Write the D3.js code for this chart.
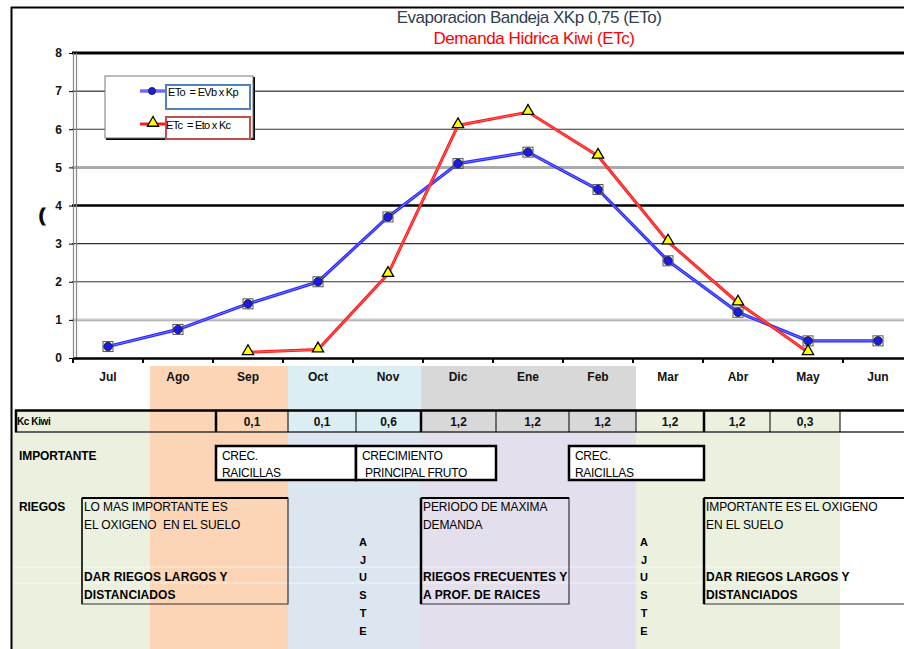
<!DOCTYPE html>
<html><head><meta charset="utf-8">
<script src="https://cdn.jsdelivr.net/npm/d3@7"></script>
<style>
html,body{margin:0;padding:0;background:#fff;overflow:hidden}
svg{display:block;font-family:Arial,"Liberation Sans",sans-serif}
text{white-space:pre}
</style></head><body>
<svg id="c" width="904" height="649"></svg>
<script>
const months = ["Jul","Ago","Sep","Oct","Nov","Dic","Ene","Feb","Mar","Abr","May","Jun"];
const etoValues = [0.3,0.75,1.42,2.0,3.7,5.1,5.4,4.42,2.55,1.2,0.45,0.45];
const etcValues = [null,null,0.15,0.22,2.2,6.1,6.45,5.3,3.05,1.45,0.15,null];
const kcLabels = ["","","0,1","0,1","0,6","1,2","1,2","1,2","1,2","1,2","0,3",""];
const yTicks = [0,1,2,3,4,5,6,7,8];
const titleLines = ["Evaporacion Bandeja XKp 0,75 (ETo)","Demanda Hidrica Kiwi (ETc)"];
const legendLabels = ["ETo  = EVb x Kp","ETc  = Eto x Kc"];

const svg = d3.select("#c");
const x = d3.scaleBand().domain(months).range([73,913]).padding(0);
const y = d3.scaleLinear().domain([0,8]).range([358,53]);
const bw = x.bandwidth();

// ---------- background colour columns ----------
const bg = svg.append("g");
const upper = [[150,288,"#fbd5b5"],[288,421,"#daeef3"],[421,636,"#d8d8d8"]];
upper.forEach(u=>bg.append("rect").attr("x",u[0]).attr("y",366).attr("width",u[1]-u[0]).attr("height",66).attr("fill",u[2]));
bg.append("rect").attr("x",15).attr("y",410).attr("width",135).attr("height",22).attr("fill","#ebf1de");
bg.append("rect").attr("x",636).attr("y",410).attr("width",204).attr("height",22).attr("fill","#ebf1de");
const lower = [[11,150,"#ebf1de"],[150,288,"#fbd5b5"],[288,421,"#dce6f1"],[421,636,"#e4dfec"],[636,840,"#ebf1de"]];
lower.forEach(l=>bg.append("rect").attr("x",l[0]).attr("y",432).attr("width",l[1]-l[0]).attr("height",217).attr("fill",l[2]));
[567,583].forEach(yy=>bg.append("line").attr("x1",11).attr("x2",904).attr("y1",yy).attr("y2",yy).attr("stroke","#ffffff").attr("stroke-opacity",0.6).attr("stroke-width",1));

// ---------- outer frame & title ----------
svg.append("line").attr("x1",11).attr("x2",904).attr("y1",7.5).attr("y2",7.5).attr("stroke","#000").attr("stroke-width",2);
svg.append("line").attr("x1",11.5).attr("x2",11.5).attr("y1",7).attr("y2",649).attr("stroke","#000").attr("stroke-width",2);
svg.append("text").attr("x",529).attr("y",23).attr("text-anchor","middle").attr("font-size",17).attr("fill","#2f3e50").attr("letter-spacing","-0.5").text(titleLines[0]);
svg.append("text").attr("x",534).attr("y",44).attr("text-anchor","middle").attr("font-size",17).attr("fill","#ff0000").attr("letter-spacing","-0.4").text(titleLines[1]);

// ---------- grid ----------
const gridStyle = {8:["#000",3],7:["#555",1.5],6:["#333",1.2],5:["#aaa",3],4:["#000",2.5],3:["#333",1.2],2:["#333",1.2],1:["#999",2.5]};
const grid = svg.append("g");
yTicks.filter(t=>t>0).forEach(t=>{
  const s = gridStyle[t];
  grid.append("line").attr("x1",72).attr("x2",904).attr("y1",y(t)).attr("y2",y(t)).attr("stroke",s[0]).attr("stroke-width",s[1]);
});
grid.append("line").attr("x1",72).attr("x2",904).attr("y1",y(1)).attr("y2",y(1)).attr("stroke","#fff").attr("stroke-width",0.8);
grid.append("line").attr("x1",73.5).attr("x2",73.5).attr("y1",53).attr("y2",360).attr("stroke","#888").attr("stroke-width",1.2);
grid.append("line").attr("x1",76.5).attr("x2",76.5).attr("y1",53).attr("y2",360).attr("stroke","#888").attr("stroke-width",1.2);

// y axis
const yAxis = svg.append("g").attr("transform","translate(73,0)")
  .call(d3.axisLeft(y).tickValues(yTicks).tickSize(4).tickFormat(d3.format("d")));
yAxis.select(".domain").remove();
yAxis.selectAll("text").attr("font-size",12).attr("font-weight","bold").attr("fill","#111").attr("dx","-4");
yAxis.selectAll("line").attr("stroke","#000");
svg.append("text").attr("x",42).attr("y",221).attr("text-anchor","middle").attr("font-size",19).attr("font-weight","900").attr("stroke","#000").attr("stroke-width",0.8).text("(");

// x axis
const xAxis = svg.append("g").attr("transform","translate(0,358)")
  .call(d3.axisBottom(x).tickSize(0).tickPadding(14));
xAxis.select(".domain").attr("stroke","#000").attr("stroke-width",2.5);
xAxis.selectAll("text").attr("font-size",12).attr("font-weight","bold").attr("fill","#111");
const bounds = months.map(m=>x(m)).concat([x("Jun")+bw]);
bounds.forEach(b=>svg.append("line").attr("x1",b).attr("x2",b).attr("y1",358).attr("y2",363).attr("stroke","#000").attr("stroke-width",2));

// ---------- series ----------
const cx = m => x(m)+bw/2;
const lineG = d3.line().defined(d=>d.v!==null).x(d=>cx(d.m)).y(d=>y(d.v));
const eto = months.map((m,i)=>({m,v:etoValues[i]}));
const etc = months.map((m,i)=>({m,v:etcValues[i]}));
const plot = svg.append("g");
plot.append("path").datum(eto).attr("d",lineG).attr("fill","none").attr("stroke","#2a2aff").attr("stroke-width",3.2);
plot.append("path").datum(eto).attr("d",lineG).attr("fill","none").attr("stroke","#aab0ff").attr("stroke-width",0.8).attr("stroke-opacity",0.7);
plot.append("path").datum(etc).attr("d",lineG).attr("fill","none").attr("stroke","#ff1a1a").attr("stroke-width",3);
plot.append("path").datum(etc).attr("d",lineG).attr("fill","none").attr("stroke","#ffb0b0").attr("stroke-width",0.8).attr("stroke-opacity",0.6);
eto.forEach(d=>{
  plot.append("rect").attr("x",cx(d.m)-5).attr("y",y(d.v)-5).attr("width",10).attr("height",10).attr("fill","none").attr("stroke","#555").attr("stroke-width",1);
  plot.append("circle").attr("cx",cx(d.m)).attr("cy",y(d.v)).attr("r",4.2).attr("fill","#1a1aee").attr("stroke","#222").attr("stroke-width",1);
});
const tri = d3.symbol().type(d3.symbolTriangle).size(55);
etc.filter(d=>d.v!==null).forEach(d=>{
  plot.append("path").attr("d",tri).attr("transform",`translate(${cx(d.m)},${y(d.v)-1})`).attr("fill","#ffff00").attr("stroke","#000").attr("stroke-width",1.3);
});

// ---------- legend ----------
const lg = svg.append("g");
lg.append("rect").attr("x",106).attr("y",77).attr("width",149).attr("height",63).attr("fill","#000");
lg.append("rect").attr("x",105).attr("y",76).attr("width",148).attr("height",62).attr("fill","#fff").attr("stroke","#777").attr("stroke-width",1);
lg.append("rect").attr("x",166).attr("y",85).attr("width",84).attr("height",24).attr("fill","#fff").attr("stroke","#4f81bd").attr("stroke-width",2);
lg.append("rect").attr("x",166).attr("y",117).attr("width",84).attr("height",22).attr("fill","#fff").attr("stroke","#c0504d").attr("stroke-width",2);
lg.append("line").attr("x1",140).attr("x2",165).attr("y1",91).attr("y2",91).attr("stroke","#2a2aff").attr("stroke-width",3);
lg.append("line").attr("x1",140).attr("x2",165).attr("y1",91).attr("y2",91).attr("stroke","#fff").attr("stroke-width",1).attr("stroke-opacity",0.6);
lg.append("circle").attr("cx",152).attr("cy",91).attr("r",3.5).attr("fill","#1a1aee").attr("stroke","#222");
lg.append("line").attr("x1",140).attr("x2",165).attr("y1",124).attr("y2",124).attr("stroke","#ff1a1a").attr("stroke-width",3);
lg.append("path").attr("d",tri).attr("transform","translate(153,123)").attr("fill","#ffff00").attr("stroke","#000").attr("stroke-width",1.3);
lg.append("text").attr("x",168).attr("y",96).attr("font-size",11).attr("letter-spacing","-0.7").text(legendLabels[0]);
lg.append("text").attr("x",166).attr("y",129).attr("font-size",11).attr("letter-spacing","-0.7").text(legendLabels[1]);

// ---------- Kc row ----------
const kc = svg.append("g");
kc.append("line").attr("x1",15).attr("x2",904).attr("y1",410.5).attr("y2",410.5).attr("stroke","#000").attr("stroke-width",2.5);
kc.append("line").attr("x1",15).attr("x2",904).attr("y1",432).attr("y2",432).attr("stroke","#333").attr("stroke-width",1.5);
kc.append("line").attr("x1",16).attr("x2",16).attr("y1",410).attr("y2",432).attr("stroke","#000").attr("stroke-width",2.5);
const kcCells = [216,288,356,421,496,569,636,704,770,840];
const thick = [216,421,704];
kcCells.forEach(b=>kc.append("line").attr("x1",b).attr("x2",b).attr("y1",410).attr("y2",432).attr("stroke","#000").attr("stroke-width",thick.includes(b)?2.5:1));
kc.append("text").attr("x",17).attr("y",425).attr("font-size",10).attr("font-weight","bold").attr("letter-spacing","-0.4").text("Kc Kiwi");
const kcEdges = [[null,null],[null,null],[216,288],[288,356],[356,421],[421,496],[496,569],[569,636],[636,704],[704,770],[770,840],[null,null]];
kcLabels.forEach((t,i)=>{
  if(!t) return;
  const e = kcEdges[i];
  kc.append("text").attr("x",(e[0]+e[1])/2).attr("y",426).attr("text-anchor","middle").attr("font-size",12).attr("font-weight","bold").attr("fill","#111").text(t);
});

// ---------- IMPORTANTE row ----------
const tb = svg.append("g");
tb.append("text").attr("x",19).attr("y",460).attr("font-size",12).attr("font-weight","bold").attr("letter-spacing","-0.1").text("IMPORTANTE");
const boxes = [[216,356,["CREC.","RAICILLAS"]],[356,496,["CRECIMIENTO"," PRINCIPAL FRUTO"]],[569,704,["CREC.","RAICILLAS"]]];
boxes.forEach(b=>{
  tb.append("rect").attr("x",b[0]).attr("y",446).attr("width",b[1]-b[0]).attr("height",34).attr("fill","#fff").attr("stroke","#000").attr("stroke-width",2.5);
  tb.append("text").attr("x",b[0]+6).attr("y",460).attr("font-size",12).attr("letter-spacing","-0.3").text(b[2][0]);
  tb.append("text").attr("x",b[0]+6).attr("y",477).attr("font-size",12).attr("letter-spacing","-0.3").text(b[2][1]);
});

// ---------- RIEGOS row ----------
tb.append("text").attr("x",19).attr("y",511).attr("font-size",12).attr("font-weight","bold").attr("letter-spacing","-0.1").text("RIEGOS");
const rboxes = [
  [82,288,["LO MAS IMPORTANTE ES","EL OXIGENO  EN EL SUELO"],["DAR RIEGOS LARGOS Y","DISTANCIADOS"]],
  [421,569,["PERIODO DE MAXIMA","DEMANDA"],["RIEGOS FRECUENTES Y","A PROF. DE RAICES"]],
  [704,920,["IMPORTANTE ES EL OXIGENO","EN EL SUELO"],["DAR RIEGOS LARGOS Y","DISTANCIADOS"]]
];
rboxes.forEach(b=>{
  tb.append("path").attr("d",`M${b[0]},604 L${b[0]},498 L${b[1]},498 L${b[1]},604 Z`).attr("fill","none").attr("stroke","#333").attr("stroke-width",1.2);
  tb.append("line").attr("x1",b[0]).attr("x2",b[1]).attr("y1",498).attr("y2",498).attr("stroke","#000").attr("stroke-width",2);
  tb.append("line").attr("x1",b[0]).attr("x2",b[0]).attr("y1",498).attr("y2",604).attr("stroke","#000").attr("stroke-width",b[0]===82?1.2:2.5);
  tb.append("text").attr("x",b[0]+2).attr("y",511).attr("font-size",12).attr("letter-spacing","-0.1").text(b[2][0]);
  tb.append("text").attr("x",b[0]+2).attr("y",529).attr("font-size",12).attr("letter-spacing","-0.1").text(b[2][1]);
  tb.append("text").attr("x",b[0]+2).attr("y",581).attr("font-size",12).attr("font-weight","bold").attr("letter-spacing","0.1").text(b[3][0]);
  tb.append("text").attr("x",b[0]+2).attr("y",599).attr("font-size",12).attr("font-weight","bold").attr("letter-spacing","0.1").text(b[3][1]);
});
const ajuste = "AJUSTE".split("");
[363,644].forEach(ax=>{
  ajuste.forEach((ch,i)=>tb.append("text").attr("x",ax).attr("y",546+i*17.7).attr("text-anchor","middle").attr("font-size",11).attr("font-weight","bold").text(ch));
});
</script>
</body></html>
